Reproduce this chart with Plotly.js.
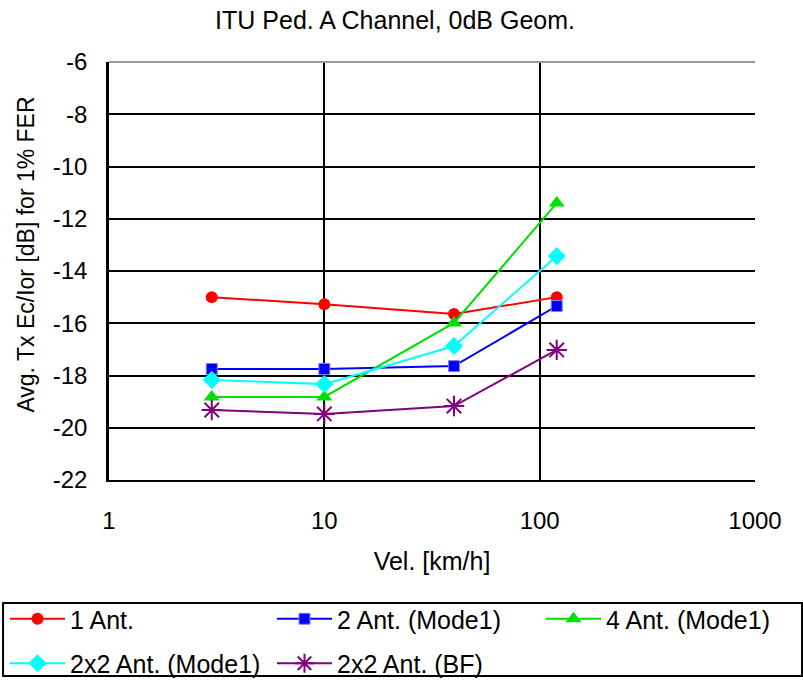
<!DOCTYPE html>
<html><head><meta charset="utf-8">
<script src="https://cdn.plot.ly/plotly-3.0.1.min.js"></script>
<style>body{margin:0;background:#fff}#c{width:803px;height:690px}</style>
</head><body><div id="c"></div>
<script>
const vel = [3, 10, 40, 120];
const ant1 = [-15.0, -15.27, -15.65, -15.0];
const ant2mode1 = [-17.75, -17.75, -17.64, -15.34];
const ant4mode1 = [-18.82, -18.82, -15.99, -11.4];
const ant2x2mode1 = [-18.17, -18.33, -16.87, -13.43];
const ant2x2bf = [-19.32, -19.47, -19.17, -17.02];
const names = ['1 Ant.', '2 Ant. (Mode1)', '4 Ant. (Mode1)', '2x2 Ant. (Mode1)', '2x2 Ant. (BF)'];
const xTicks = [1, 10, 100, 1000];
const yTicks = [-22, -20, -18, -16, -14, -12, -10, -8, -6];

const series = [ant1, ant2mode1, ant4mode1, ant2x2mode1, ant2x2bf];
const colors = ['#ff0000', '#0000ff', '#00e000', '#00ffff', '#800080'];
const legendIds = ['legend', 'legend2', 'legend3', 'legend', 'legend2'];
const markers = [
  {symbol: 'circle', size: 12},
  {symbol: 'square', size: 11, line: {color: '#8080ff', width: 1}},
  {symbol: 'triangle-up', size: 14},
  {symbol: 'diamond', size: 14},
  {symbol: 'asterisk-open', size: 17, line: {width: 2}}
];
const traces = series.map((s, i) => ({
  x: vel, y: s, name: names[i], type: 'scatter', mode: 'lines+markers',
  legend: legendIds[i], legendgroup: 'g' + i,
  line: {color: colors[i], width: 2},
  marker: Object.assign({color: colors[i]}, markers[i],
    markers[i].line ? {line: Object.assign({color: colors[i]}, markers[i].line)} : {})
}));

const font = {family: 'Liberation Sans, Arial, sans-serif', color: '#000'};
const fs = 25;
const W = 803, H = 690;
function legendAt(px, py) {
  return {
    xref: 'container', yref: 'container', x: px / W, y: 1 - py / H,
    xanchor: 'left', yanchor: 'top', orientation: 'v',
    borderwidth: 0, bgcolor: 'rgba(0,0,0,0)', itemwidth: 55,
    traceorder: 'grouped', tracegroupgap: 9,
    font: Object.assign({size: fs}, font)
  };
}
const layout = {
  width: W, height: H,
  margin: {l: 109, r: 48, t: 62, b: 210, autoexpand: false},
  paper_bgcolor: '#fff', plot_bgcolor: '#fff',
  font: Object.assign({size: fs}, font),
  title: {text: 'ITU Ped. A Channel, 0dB Geom.', font: Object.assign({size: fs}, font), x: 0.492, xanchor: 'center', y: 0.971, yanchor: 'middle'},
  xaxis: {
    type: 'log', range: [0, 3], tickvals: xTicks, ticktext: xTicks.map(String),
    showgrid: true, gridcolor: '#000', gridwidth: 1.5,
    showline: true, linecolor: '#000', linewidth: 2, zeroline: false,
    ticks: '', ticklabelstandoff: 18, tickfont: Object.assign({size: 24}, font),
    title: {text: 'Vel. [km/h]', font: Object.assign({size: fs}, font), standoff: 20}
  },
  yaxis: {
    range: [-22, -6], tickvals: yTicks, ticktext: yTicks.map(String),
    showgrid: true, gridcolor: '#000', gridwidth: 1.5,
    showline: true, linecolor: '#000', linewidth: 2.5, zeroline: false,
    ticks: 'inside', ticklen: 8, tickwidth: 2, tickcolor: '#000',
    ticklabelstandoff: 14, tickfont: Object.assign({size: 24}, font)
  },
  annotations: [{
    text: 'Avg. Tx Ec/Ior [dB] for 1% FER', textangle: -90, showarrow: false,
    xref: 'paper', yref: 'paper', x: -0.128, y: 0.54, xanchor: 'center', yanchor: 'middle',
    font: Object.assign({size: 23}, font)
  }],
  shapes: [
    {type: 'line', xref: 'paper', yref: 'paper', x0: 0, x1: 1, y0: 1, y1: 1, line: {color: '#999', width: 2}},
    {type: 'rect', xref: 'paper', yref: 'paper', x0: -0.164, x1: 1.0728, y0: -0.4689, y1: -0.2943, line: {color: '#000', width: 2}, fillcolor: 'rgba(0,0,0,0)'}
  ],
  showlegend: true,
  legend: legendAt(5, 596),
  legend2: legendAt(272, 596),
  legend3: legendAt(541, 596)
};
Plotly.newPlot('c', traces, layout, {displayModeBar: false});
</script></body></html>
